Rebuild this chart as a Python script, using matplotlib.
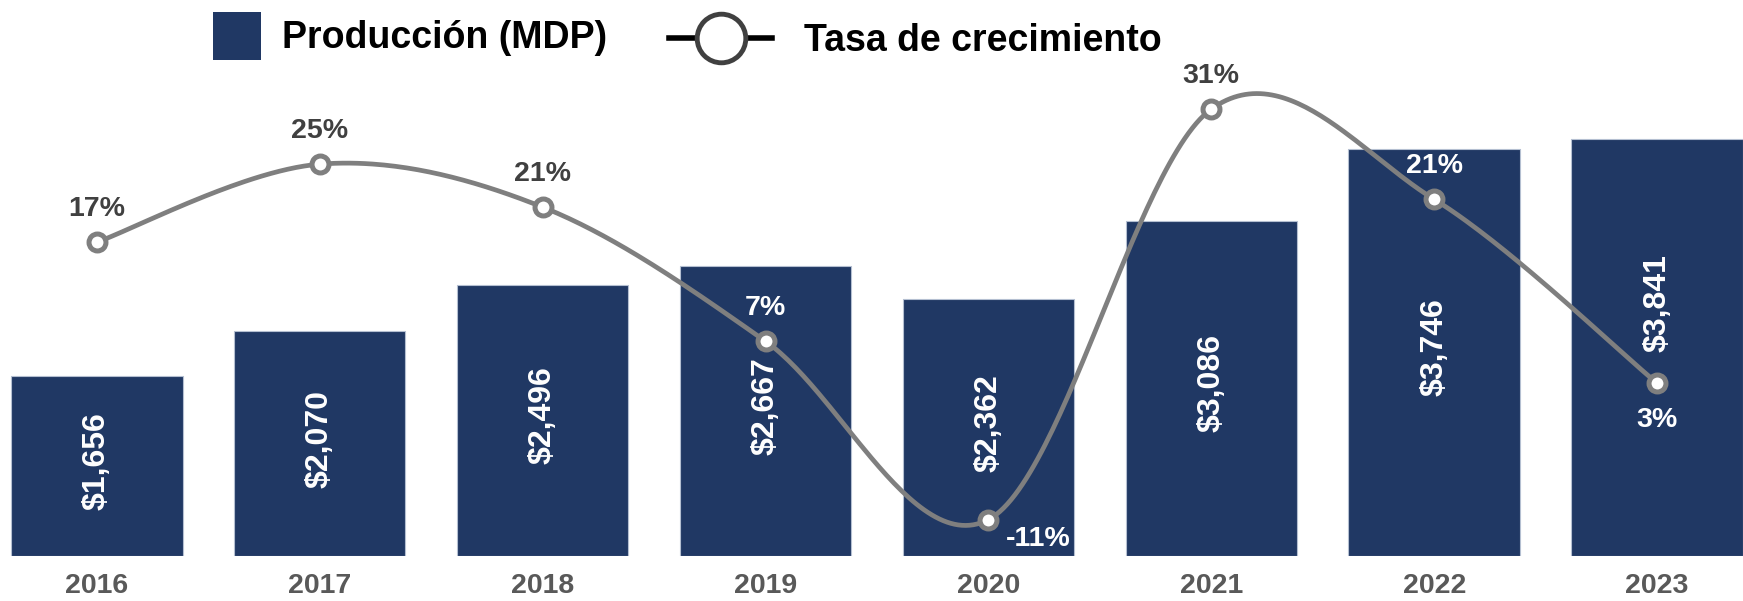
import numpy as np
import matplotlib
matplotlib.use("Agg")
import matplotlib.pyplot as plt
from matplotlib.lines import Line2D
from matplotlib.patches import Patch

# ---------------- data ----------------
years = ["2016", "2017", "2018", "2019", "2020", "2021", "2022", "2023"]
production = [1656, 2070, 2496, 2667, 2362, 3086, 3746, 3841]          # MDP
growth = [17.0, 25.0, 20.6, 6.85, -11.44, 30.65, 21.39, 2.54]          # %
legend_labels = ["Producción (MDP)", "Tasa de crecimiento"]

# ---------------- style ----------------
plt.rcParams["font.family"] = ["Liberation Sans", "DejaVu Sans"]
plt.rcParams["font.weight"] = "bold"
BAR_COLOR = "#203864"
BAR_EDGE = "#b4bfd1"
LINE_COLOR = "#7f7f7f"
DARK_TXT = "#404040"
TICK_TXT = "#595959"

W, H, DPI = 1743, 601, 100
fig = plt.figure(figsize=(W / DPI, H / DPI), dpi=DPI)
PX = 72.0 / DPI  # points per pixel

ax = fig.add_axes([0, 45 / H, 1, 556 / H])
ax2 = ax.twinx()
for a in (ax, ax2):
    for s in a.spines.values():
        s.set_visible(False)
    a.set_yticks([])
    a.patch.set_visible(False)

x = np.arange(len(years))
bar_w = 0.77
ax.bar(x, production, width=bar_w, color=BAR_COLOR, edgecolor=BAR_EDGE,
       linewidth=0.8, zorder=2)
ax.set_xlim(-0.434, len(years) - 1 + 0.385)
ax.set_ylim(0, 5117)
ax.set_xticks(x)
ax.set_xticklabels(years, fontsize=20.5, fontweight="bold", color=TICK_TXT)
ax.tick_params(axis="x", length=0, pad=12)

# bar value labels (rotated, inside bars); extra upward nudge (px) for the last one
nudge_px = {7: 44}
for i, v in enumerate(production):
    dy = nudge_px.get(i, 5) * PX
    ax.annotate(f"${v:,}", (x[i], v / 2), xytext=(0, dy), textcoords="offset points",
                rotation=90, ha="center", va="center", color="white",
                fontsize=23, fontweight="bold", zorder=3)

# ---------------- smoothed growth line (Catmull-Rom / Excel-like) ----------------
ax2.set_ylim(-15.17, 41.83)
fig.canvas.draw()
pts = ax2.transData.transform(np.column_stack([x, growth]))
curve = []
n = len(pts)
for i in range(n - 1):
    p0 = pts[i - 1] if i > 0 else pts[i]
    p1, p2 = pts[i], pts[i + 1]
    p3 = pts[i + 2] if i + 2 < n else pts[i + 1]
    c1 = p1 + (p2 - p0) / 6.0
    c2 = p2 - (p3 - p1) / 6.0
    t = np.linspace(0, 1, 60)[:, None]
    seg = ((1 - t) ** 3) * p1 + 3 * ((1 - t) ** 2) * t * c1 + 3 * (1 - t) * t ** 2 * c2 + t ** 3 * p2
    curve.append(seg if i == 0 else seg[1:])
curve = np.vstack(curve)
curve_data = ax2.transData.inverted().transform(curve)
ax2.plot(curve_data[:, 0], curve_data[:, 1], color=LINE_COLOR, lw=3.4,
         solid_capstyle="round", zorder=4)
ax2.plot(x, growth, linestyle="none", marker="o", ms=12.2, mfc="white",
         mec=LINE_COLOR, mew=3.6, zorder=5)

# percentage labels
placement = {4: (50, -19), 7: (0, -37)}
for i, g in enumerate(growth):
    ox, oy = placement.get(i, (0, 33))
    px, py = ax2.transData.transform((x[i], g))
    lx, ly = px + ox, py + oy
    bx0 = ax.transData.transform((x[i] - bar_w / 2, 0))
    bx1 = ax.transData.transform((x[i] + bar_w / 2, production[i]))
    inside = (bx0[0] <= lx <= bx1[0]) and (ly <= bx1[1])
    ax2.annotate(f"{g:.0f}%", (x[i], g), xytext=(ox * PX, oy * PX),
                 textcoords="offset points", ha="center", va="center",
                 fontsize=20.5, fontweight="bold",
                 color="white" if inside else DARK_TXT, zorder=6)

# ---------------- legend ----------------
h1 = Patch(facecolor=BAR_COLOR, edgecolor="none")
h2 = Line2D([], [], color="black", lw=4, marker="o", ms=35, mfc="white",
            mec="#404040", mew=3.5)
leg1 = fig.legend([h1], [legend_labels[0]], loc="center left",
                  bbox_to_anchor=(213 / W, 1 - 36 / H), frameon=False,
                  fontsize=27, handlelength=1.28, handleheight=1.59,
                  handletextpad=0.56, borderpad=0, borderaxespad=0)
leg2 = fig.legend([h2], [legend_labels[1]], loc="center left",
                  bbox_to_anchor=(669 / W, 1 - 41 / H), frameon=False,
                  fontsize=27, handlelength=2.75, handletextpad=0.84,
                  borderpad=0, borderaxespad=0)
for lg in (leg1, leg2):
    for t in lg.get_texts():
        t.set_fontweight("bold")
        t.set_color("black")

fig.savefig("out.png", dpi=DPI)
